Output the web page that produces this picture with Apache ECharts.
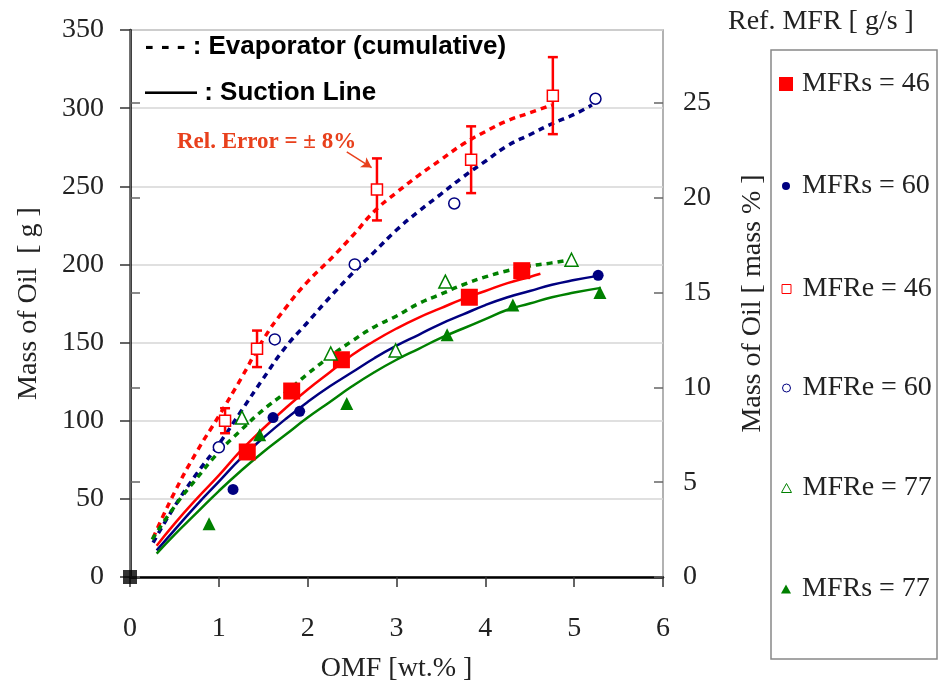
<!DOCTYPE html>
<html><head><meta charset="utf-8">
<script src="https://cdn.jsdelivr.net/npm/echarts@6/dist/echarts.min.js"></script>
<style>html,body{margin:0;padding:0;background:#fff}#c{width:938px;height:691px}</style>
</head><body><div id="c"></div>
<script>
// ---------- data ----------
const xTicks = [0, 1, 2, 3, 4, 5, 6];
const yLeftTicks = [0, 50, 100, 150, 200, 250, 300, 350];
const yRightTicks = [0, 5, 10, 15, 20, 25];
const yRightMax = 28.85;
const relErrorPct = 8;

const seriesNames = ['MFRs = 46', 'MFRs = 60', 'MFRe = 46', 'MFRe = 60', 'MFRe = 77', 'MFRs = 77'];

// measured points
const mfrs46 = [[1.32, 80], [1.82, 119], [2.38, 139], [3.82, 179], [4.41, 196]];
const mfrs60 = [[1.16, 56], [1.61, 102], [1.91, 106], [5.27, 193]];
const mfre46 = [[1.07, 100], [1.43, 146], [2.78, 248], [3.84, 267], [4.76, 308]];
const mfre60 = [[1.0, 83], [1.63, 152], [2.53, 200], [3.65, 239], [5.24, 306]];
const mfre77 = [[1.26, 102], [2.26, 143], [2.99, 145], [3.55, 189], [4.97, 203]];
const mfrs77 = [[0.89, 34], [1.46, 91], [2.44, 111], [3.57, 155], [4.31, 174], [5.29, 182]];
const origin = [[0, 0]];

// trend curves
const fitE46 = [[0.26,25],[0.5,54],[0.75,80],[1.0,103],[1.25,127],[1.5,152],[1.75,172],[2.0,189],[2.25,203],[2.5,218],[2.75,234],[3.0,246],[3.25,257],[3.5,267],[3.75,277],[4.0,285],[4.25,292],[4.5,297],[4.75,302]];
const fitE60 = [[0.26,22],[0.5,45],[0.75,66],[1.0,85],[1.25,106],[1.5,127],[1.75,147],[2.0,163],[2.25,179],[2.5,194],[2.75,208],[3.0,222],[3.25,234],[3.5,245],[3.75,256],[4.0,266],[4.25,276],[4.5,283],[4.75,290],[5.0,296],[5.2,302]];
const fitE77 = [[0.25,24],[0.5,45],[0.75,63],[1.0,80],[1.25,94],[1.5,107],[1.75,118],[2.0,130],[2.25,141],[2.5,151],[2.75,160],[3.0,167],[3.25,175],[3.5,181],[3.75,187],[4.0,192],[4.25,196],[4.5,199],[4.75,201],[4.95,203]];
const fitS46 = [[0.3,20],[0.5,34],[0.75,50],[1.0,65],[1.25,81],[1.5,95],[1.75,108],[2.0,120],[2.25,131],[2.5,142],[2.75,151],[3.0,159],[3.25,166],[3.5,172],[3.75,178],[4.0,183],[4.25,188],[4.5,192],[4.62,194]];
const fitS60 = [[0.3,17],[0.5,30],[0.75,46],[1.0,61],[1.25,76],[1.5,89],[1.75,101],[2.0,112],[2.25,122],[2.5,131],[2.75,140],[3.0,148],[3.25,155],[3.5,162],[3.75,168],[4.0,174],[4.25,179],[4.5,183],[4.75,187],[5.0,190],[5.3,193]];
const fitS77 = [[0.3,15],[0.5,27],[0.75,41],[1.0,55],[1.25,68],[1.5,80],[1.75,91],[2.0,102],[2.25,112],[2.5,122],[2.75,131],[3.0,139],[3.25,146],[3.5,153],[3.75,159],[4.0,165],[4.25,171],[4.5,175],[4.75,179],[5.0,182],[5.3,185]];

const arrowFrom = [2.44, 272];
const arrowTo = [2.72, 262];

// ---------- styles ----------
const SERIF = '"Liberation Serif","Times New Roman",serif';
const SANS = '"Liberation Sans",Arial,sans-serif';
const RED = '#ff0000', NAVY = '#000080', GREEN = '#008000', ORANGE = '#e8401c';
const TXT = '#222';

function fitLine(data, color, dashed) {
  return {
    type: 'line', data: data, smooth: true, showSymbol: false, symbol: 'none',
    silent: true, z: 2, animation: false,
    lineStyle: { color: color, width: dashed ? 3.5 : 2.5, type: dashed ? [6, 5] : 'solid' }
  };
}
function scatter(name, data, symbol, size, fill, stroke, extra) {
  return Object.assign({
    name: name, type: 'scatter', data: data, symbol: symbol, symbolSize: size, z: 5, animation: false,
    itemStyle: { color: fill, borderColor: stroke, borderWidth: fill === '#fff' ? 1.5 : 0, opacity: 1 }
  }, extra || {});
}

const legendCenters = [85, 187, 290, 389, 489, 590];
const legendIcon = [
  { icon: 'rect', w: 14, h: 14, color: RED, border: RED, bw: 0 },
  { icon: 'circle', w: 8, h: 8, color: NAVY, border: NAVY, bw: 0 },
  { icon: 'rect', w: 9, h: 9, color: '#fff', border: RED, bw: 1 },
  { icon: 'circle', w: 8, h: 8, color: '#fff', border: NAVY, bw: 1 },
  { icon: 'triangle', w: 10, h: 9, color: '#fff', border: GREEN, bw: 1 },
  { icon: 'triangle', w: 10, h: 9, color: GREEN, border: GREEN, bw: 0 }
];
const legends = seriesNames.map(function (n, i) {
  const L = legendIcon[i];
  return {
    show: true, selectedMode: false, orient: 'horizontal', padding: 0,
    left: 786 - L.w / 2, top: legendCenters[i] - 15,
    itemWidth: L.w, itemHeight: L.h,
    data: [{ name: n, icon: L.icon, itemStyle: { color: L.color, borderColor: L.border, borderWidth: L.bw } }],
    textStyle: { fontFamily: SERIF, fontSize: 28, color: TXT, padding: [0, 0, 0, Math.max(0, 802 - (786 + L.w / 2 + 5))] }
  };
});

const chart = echarts.init(document.getElementById('c'), null, { renderer: 'canvas' });
chart.setOption({
  backgroundColor: '#fff',
  animation: false,
  textStyle: { fontFamily: SERIF },
  grid: { left: 130, right: 275, top: 30, bottom: 114, show: true, borderColor: '#999', borderWidth: 1.5, backgroundColor: 'transparent' },
  legend: legends,
  xAxis: {
    type: 'value', min: xTicks[0], max: xTicks[xTicks.length - 1], interval: 1,
    name: 'OMF [wt.% ]', nameLocation: 'middle', nameGap: 78,
    nameTextStyle: { fontFamily: SERIF, fontSize: 28, color: TXT },
    axisLine: { show: true, onZero: false, lineStyle: { color: '#000', width: 2.5 } },
    axisTick: { show: true, inside: false, length: 10, lineStyle: { color: '#333', width: 1.5 } },
    axisLabel: { fontFamily: SERIF, fontSize: 28, color: TXT, margin: 38, formatter: function (v) { return xTicks.indexOf(v) >= 0 ? String(v) : ''; } },
    splitLine: { show: false }
  },
  yAxis: [
    {
      type: 'value', min: yLeftTicks[0], max: yLeftTicks[yLeftTicks.length - 1], interval: 50, position: 'left',
      name: 'Mass of Oil  [ g ]', nameLocation: 'middle', nameGap: 87, nameRotate: 90,
      nameTextStyle: { fontFamily: SERIF, fontSize: 28, color: TXT },
      axisLine: { show: true, onZero: false, lineStyle: { color: '#000', width: 2.5 } },
      axisTick: { show: true, inside: false, length: 10, lineStyle: { color: '#333', width: 1.5 } },
      axisLabel: { fontFamily: SERIF, fontSize: 28, color: TXT, margin: 26 },
      splitLine: { show: true, lineStyle: { color: '#d6d6d6', width: 1.5 } }
    },
    {
      type: 'value', min: 0, max: yRightMax, position: 'right',
      name: 'Mass of Oil [ mass % ]', nameLocation: 'middle', nameGap: 76, nameRotate: 90,
      nameTextStyle: { fontFamily: SERIF, fontSize: 28, color: TXT },
      axisLine: { show: true, lineStyle: { color: '#888', width: 1.5 } },
      axisTick: { show: true, inside: false, length: 10, customValues: yRightTicks, lineStyle: { color: '#666', width: 1.5 } },
      axisLabel: { fontFamily: SERIF, fontSize: 28, color: TXT, margin: 20, customValues: yRightTicks },
      splitLine: { show: false }
    },
    {
      type: 'value', min: 0, max: yRightMax, position: 'right',
      axisLine: { show: false },
      axisTick: { show: true, inside: true, length: 9, customValues: yRightTicks, lineStyle: { color: '#666', width: 1.5 } },
      axisLabel: { show: false },
      splitLine: { show: false }
    }
  ],
  graphic: [
    { type: 'rect', shape: { x: 771, y: 50, width: 166, height: 609 }, style: { fill: 'none', stroke: '#888', lineWidth: 1.5 }, silent: true },
    { type: 'text', left: 728, top: 8, style: { text: 'Ref. MFR [ g/s ]', font: '28px ' + SERIF, fill: TXT } },
    { type: 'text', left: 145, top: 34, style: { text: '- - - : Evaporator (cumulative)', font: 'bold 26px ' + SANS, fill: '#000' } },
    { type: 'text', left: 145, top: 80, style: { text: '—— : Suction Line', font: 'bold 26px ' + SANS, fill: '#000' } },
    { type: 'text', left: 177, top: 131, style: { text: 'Rel. Error = ± ' + relErrorPct + '%', font: 'bold 23px ' + SERIF, fill: ORANGE } }
  ],
  series: [
    fitLine(fitE46, RED, true),
    fitLine(fitE60, NAVY, true),
    fitLine(fitE77, GREEN, true),
    fitLine(fitS46, RED, false),
    fitLine(fitS60, NAVY, false),
    fitLine(fitS77, GREEN, false),
    {
      type: 'custom', data: mfre46, z: 4, silent: true, animation: false,
      encode: { x: 0, y: 1 },
      renderItem: function (params, api) {
        const x = api.value(0), y = api.value(1), e = relErrorPct / 100;
        const lo = api.coord([x, y * (1 - e)]), hi = api.coord([x, y * (1 + e)]);
        const cap = 5, st = { stroke: RED, lineWidth: 2.5 };
        return { type: 'group', children: [
          { type: 'line', shape: { x1: lo[0], y1: lo[1], x2: hi[0], y2: hi[1] }, style: st },
          { type: 'line', shape: { x1: lo[0] - cap, y1: lo[1], x2: lo[0] + cap, y2: lo[1] }, style: st },
          { type: 'line', shape: { x1: hi[0] - cap, y1: hi[1], x2: hi[0] + cap, y2: hi[1] }, style: st }
        ] };
      }
    },
    scatter(seriesNames[0], mfrs46, 'rect', 17, RED, RED),
    scatter(seriesNames[1], mfrs60, 'circle', 11, NAVY, NAVY),
    scatter(seriesNames[2], mfre46, 'rect', 11, '#fff', RED, {
      markLine: {
        silent: true, animation: false, symbol: ['none', 'arrow'], symbolSize: [9, 10],
        label: { show: false },
        lineStyle: { color: ORANGE, width: 1.5, type: 'solid' },
        data: [[{ coord: arrowFrom }, { coord: arrowTo }]]
      }
    }),
    scatter(seriesNames[3], mfre60, 'circle', 11, '#fff', NAVY),
    scatter(seriesNames[4], mfre77, 'triangle', 13, '#fff', GREEN),
    scatter(seriesNames[5], mfrs77, 'triangle', 13, GREEN, GREEN),
    { name: 'origin', type: 'scatter', data: origin, symbol: 'rect', symbolSize: 14, z: 6, animation: false, itemStyle: { color: '#000' } }
  ]
});
</script></body></html>
